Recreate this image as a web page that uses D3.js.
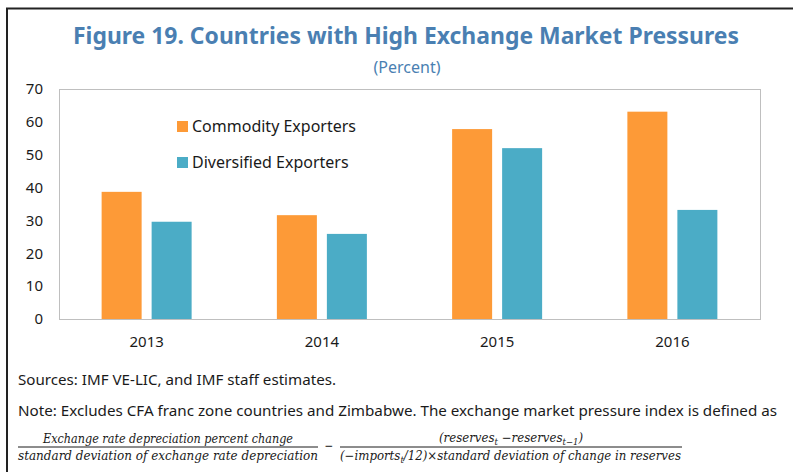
<!DOCTYPE html>
<html>
<head>
<meta charset="utf-8">
<script src="https://cdn.jsdelivr.net/npm/d3@7"></script>
<style>
  body { margin: 0; background: #fff; }
  text { font-family: "Noto Sans", "Open Sans", sans-serif; fill: #1a1a1a; }
  .math { font-family: "DejaVu Serif", serif; font-style: italic; }
</style>
</head>
<body>
<script>
// data
const years = ["2013", "2014", "2015", "2016"];
const series = ["Commodity Exporters", "Diversified Exporters"];
const commodity = [38.7, 31.6, 57.8, 63.1];
const diversified = [29.6, 25.9, 52.0, 33.2];
const yTicks = [0, 10, 20, 30, 40, 50, 60, 70];
const colors = ["#fd9a37", "#4bacc6"];

const width = 793, height = 472;
const svg = d3.select("body").append("svg")
    .attr("width", width)
    .attr("height", height);

// outer frame
svg.append("line").attr("x1", 7).attr("x2", 7).attr("y1", 8).attr("y2", height)
    .attr("stroke", "#222").attr("stroke-width", 2);
svg.append("line").attr("x1", 6).attr("x2", width).attr("y1", 8.5).attr("y2", 8.5)
    .attr("stroke", "#222").attr("stroke-width", 2);

// title
svg.append("text")
    .attr("x", 406).attr("y", 44)
    .attr("text-anchor", "middle")
    .attr("textLength", 666).attr("lengthAdjust", "spacingAndGlyphs")
    .style("font-size", "23px").style("font-weight", "bold").style("fill", "#4a7fb2")
    .text("Figure 19. Countries with High Exchange Market Pressures");
svg.append("text")
    .attr("x", 407).attr("y", 73)
    .attr("text-anchor", "middle")
    .style("font-size", "16px").style("fill", "#4a7fb2")
    .text("(Percent)");

// scales
const plotL = 59, plotR = 760, plotT = 89, plotB = 319;
const x = d3.scaleBand().domain(years).range([plotL, plotR]);
const y = d3.scaleLinear().domain([0, 70]).range([plotB, plotT]);
const bw = x.bandwidth();
const xs = d3.scaleBand().domain(series).range([bw / 2 - 45, bw / 2 + 45]).paddingInner(0.2);

// plot frame
svg.append("rect")
    .attr("x", plotL + 0.5).attr("y", plotT + 0.5)
    .attr("width", plotR - plotL).attr("height", plotB - plotT)
    .attr("fill", "none").attr("stroke", "#bfbfbf");

// y axis labels
const yAxis = svg.append("g")
    .attr("transform", `translate(${plotL},0)`)
    .call(d3.axisLeft(y).tickValues(yTicks).tickSize(0).tickPadding(16));
yAxis.select(".domain").remove();
yAxis.selectAll("text").style("font-size", "15px").attr("fill", "#1a1a1a")
    .style("font-family", '"Noto Sans", sans-serif');

// x axis labels
const xAxis = svg.append("g")
    .attr("transform", `translate(0,${plotB})`)
    .call(d3.axisBottom(x).tickSize(0).tickPadding(17));
xAxis.select(".domain").remove();
xAxis.selectAll("text").style("font-size", "15px").attr("fill", "#1a1a1a")
    .style("font-family", '"Noto Sans", sans-serif');

// bars
const rows = years.map((yr, i) => ({ year: yr, vals: [commodity[i], diversified[i]] }));
const groups = svg.append("g").selectAll("g")
    .data(rows).enter().append("g")
    .attr("transform", d => `translate(${x(d.year)},0)`);
groups.selectAll("rect")
    .data(d => d.vals.map((v, j) => ({ s: series[j], v: v, j: j })))
    .enter().append("rect")
    .attr("x", d => xs(d.s))
    .attr("width", xs.bandwidth())
    .attr("y", d => y(d.v))
    .attr("height", d => y(0) - y(d.v))
    .attr("fill", d => colors[d.j]);

// legend
const legend = svg.append("g").selectAll("g")
    .data(series).enter().append("g")
    .attr("transform", (d, i) => `translate(177,${121 + i * 36})`);
legend.append("rect").attr("width", 11).attr("height", 11).attr("fill", (d, i) => colors[i]);
legend.append("text").attr("x", 15).attr("y", 11)
    .style("font-size", "16px").text(d => d);

// notes
svg.append("text").attr("x", 18).attr("y", 385)
    .attr("textLength", 318).attr("lengthAdjust", "spacingAndGlyphs")
    .style("font-size", "15px")
    .text("Sources: IMF VE-LIC, and IMF staff estimates.");
svg.append("text").attr("x", 18).attr("y", 416)
    .attr("textLength", 759).attr("lengthAdjust", "spacingAndGlyphs")
    .style("font-size", "15px")
    .text("Note: Excludes CFA franc zone countries and Zimbabwe. The exchange market pressure index is defined as");

// formula
const fracLine = 447;
svg.append("line").attr("x1", 18).attr("x2", 318).attr("y1", fracLine).attr("y2", fracLine)
    .attr("stroke", "#1a1a1a").attr("stroke-width", 1);
svg.append("line").attr("x1", 340).attr("x2", 682).attr("y1", fracLine).attr("y2", fracLine)
    .attr("stroke", "#1a1a1a").attr("stroke-width", 1);
svg.append("text").attr("x", 329).attr("y", fracLine + 4).attr("text-anchor", "middle")
    .style("font-size", "14px").text("−");

svg.append("text").attr("class", "math").attr("x", 43).attr("y", 443)
    .attr("textLength", 250).attr("lengthAdjust", "spacingAndGlyphs")
    .style("font-size", "12.5px")
    .text("Exchange rate depreciation percent change");
svg.append("text").attr("class", "math").attr("x", 18).attr("y", 460)
    .attr("textLength", 300).attr("lengthAdjust", "spacingAndGlyphs")
    .style("font-size", "12.5px")
    .text("standard deviation of exchange rate depreciation");

const num2 = svg.append("text").attr("class", "math").attr("x", 439).attr("y", 442)
    .attr("textLength", 144).attr("lengthAdjust", "spacingAndGlyphs")
    .style("font-size", "12.5px");
num2.append("tspan").text("(reserves");
num2.append("tspan").attr("dy", 3).style("font-size", "9px").text("t");
num2.append("tspan").attr("dy", -3).text(" −reserves");
num2.append("tspan").attr("dy", 3).style("font-size", "9px").text("t−1");
num2.append("tspan").attr("dy", -3).text(")");

const den2 = svg.append("text").attr("class", "math").attr("x", 340).attr("y", 460)
    .attr("textLength", 341).attr("lengthAdjust", "spacingAndGlyphs")
    .style("font-size", "12.5px");
den2.append("tspan").text("(−imports");
den2.append("tspan").attr("dy", 3).style("font-size", "9px").text("t");
den2.append("tspan").attr("dy", -3).text("/12)×standard deviation of change in reserves");
</script>
</body>
</html>
